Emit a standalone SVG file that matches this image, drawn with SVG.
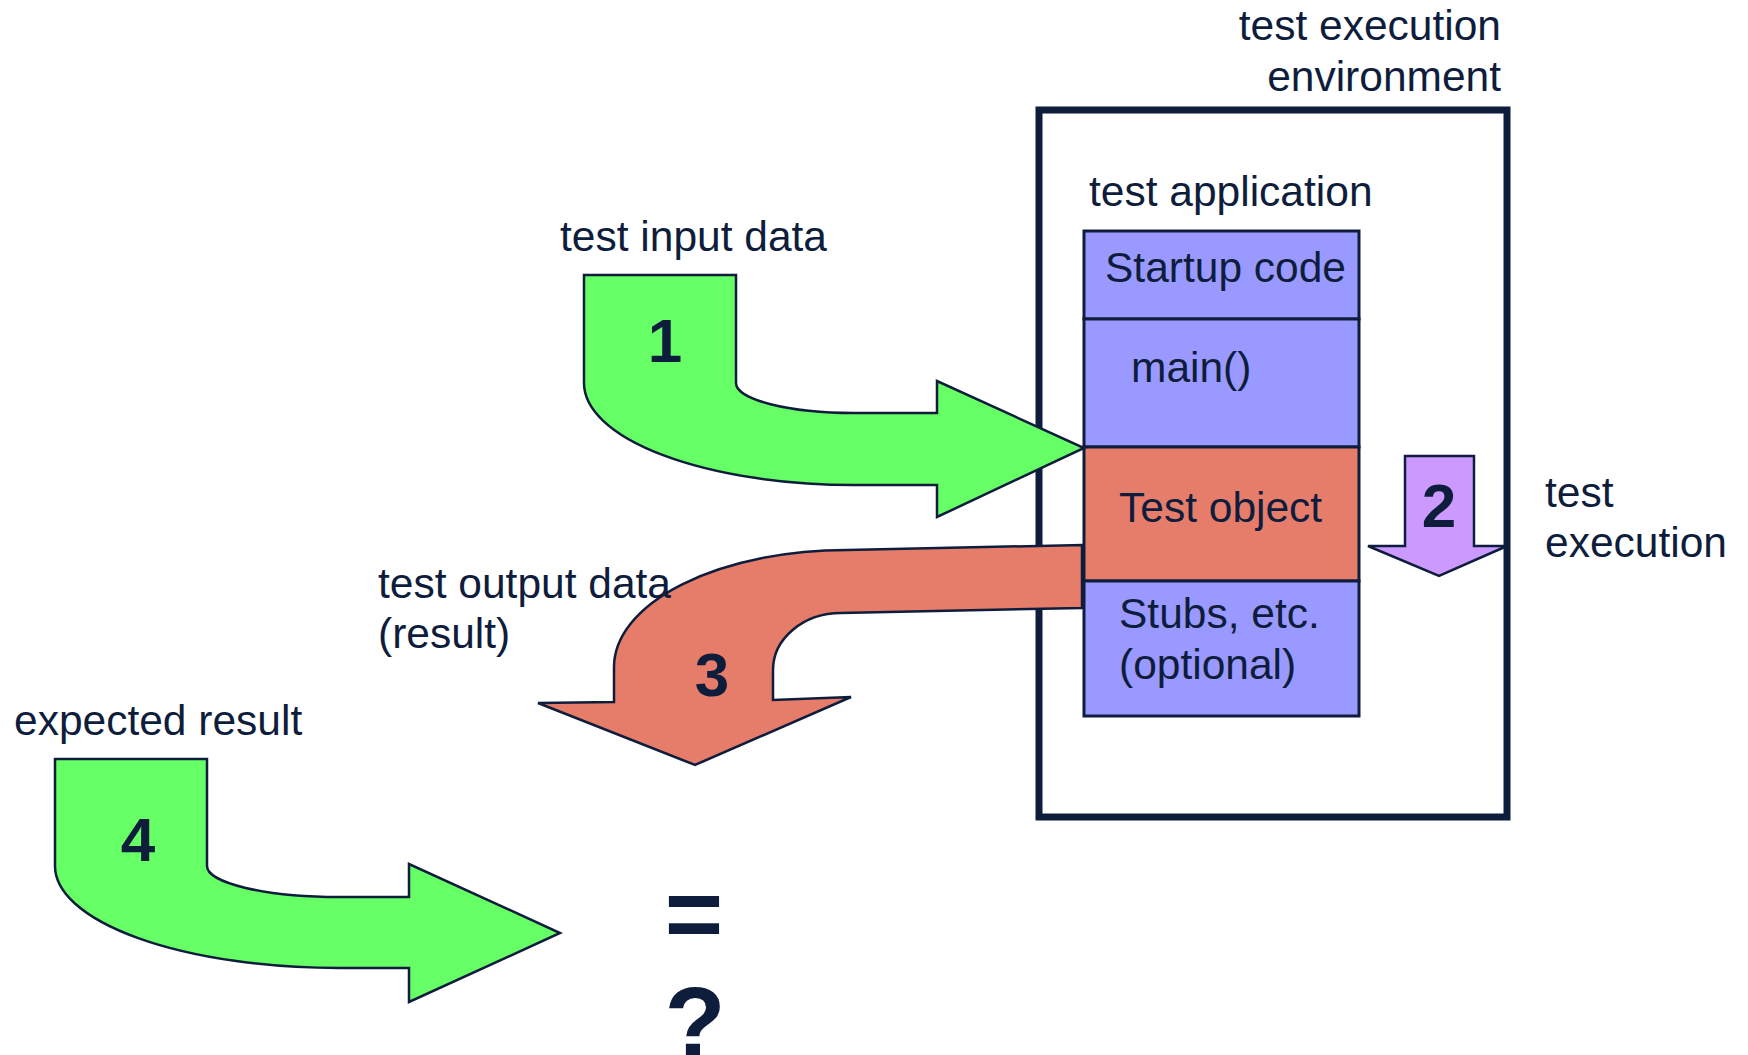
<svg xmlns="http://www.w3.org/2000/svg" width="1748" height="1055" viewBox="0 0 1748 1055">
  <style>
    .lbl { font-family: "Liberation Sans", Arial, sans-serif; font-size: 42.5px; fill: #0f1d3c; }
    .num { font-family: "Liberation Sans", Arial, sans-serif; font-size: 62px; font-weight: bold; fill: #0f1d3c; text-anchor: middle; }
    .big { font-family: "Liberation Sans", Arial, sans-serif; font-size: 100px; font-weight: bold; fill: #0f1d3c; text-anchor: middle; }
    .layer { stroke: #0f1d3c; stroke-width: 3; }
    .blue { fill: #9999ff; }
    .red { fill: #e67c6a; }
    .arrow { stroke: #0f1d3c; stroke-width: 2.5; stroke-linejoin: miter; }
    .green { fill: #66ff66; }
    .violet { fill: #cc99ff; }
  </style>
  <rect width="1748" height="1055" fill="#ffffff"/>

  <!-- execution environment frame -->
  <g id="environment">
    <rect x="1039" y="110" width="468" height="707" fill="none" stroke="#0f1d3c" stroke-width="7"/>
    <text class="lbl" x="1501" y="40" text-anchor="end">test execution</text>
    <text class="lbl" x="1501" y="91" text-anchor="end">environment</text>
  </g>

  <!-- test application stack -->
  <g id="test-application">
    <text class="lbl" x="1089" y="206">test application</text>
    <g id="startup-code">
      <rect class="layer blue" x="1084" y="231" width="275" height="88"/>
      <text class="lbl" x="1105" y="282">Startup code</text>
    </g>
    <g id="main">
      <rect class="layer blue" x="1084" y="319" width="275" height="128"/>
      <text class="lbl" x="1131" y="382">main()</text>
    </g>
    <g id="test-object">
      <rect class="layer red" x="1084" y="447" width="275" height="134"/>
      <text class="lbl" x="1119" y="522">Test object</text>
    </g>
    <g id="stubs">
      <rect class="layer blue" x="1084" y="581" width="275" height="135"/>
      <text class="lbl" x="1119" y="628">Stubs, etc.</text>
      <text class="lbl" x="1119" y="679">(optional)</text>
    </g>
  </g>

  <!-- numbered flow arrows -->
  <g id="connectors">
    <g id="arrow-1">
      <path class="arrow green" d="M 584 275 H 736 V 383 A 118 30 0 0 0 854 413 H 937 V 381 L 1084 448 L 937 517 V 485 H 854 A 270 102 0 0 1 584 383 Z"/>
      <text class="num" x="665" y="362">1</text>
    </g>
    <g id="arrow-2">
      <path class="arrow violet" d="M 1405 456 H 1474 V 546 H 1507 L 1439 576 L 1368 546 H 1405 Z"/>
      <text class="num" x="1439" y="527">2</text>
    </g>
    <g id="arrow-3">
      <path class="arrow red" d="M 1082 545 V 608 L 841 613 A 68 57 0 0 0 773 670 V 700 L 851 697 L 695 765 L 538 703 L 614 702 V 667 A 233 117 0 0 1 847 550 Z"/>
      <text class="num" x="712" y="696">3</text>
    </g>
    <g id="arrow-4">
      <path class="arrow green" d="M 55 759 H 207 V 866 A 132 31 0 0 0 339 897 H 409 V 864 L 560 933 L 409 1002 V 968 H 339 A 284 102 0 0 1 55 866 Z"/>
      <text class="num" x="138" y="861">4</text>
    </g>
  </g>

  <!-- data labels -->
  <g id="input-label">
    <text class="lbl" x="560" y="251">test input data</text>
  </g>
  <g id="execution-label">
    <text class="lbl" x="1545" y="507">test</text>
    <text class="lbl" x="1545" y="557">execution</text>
  </g>
  <g id="output-label">
    <text class="lbl" x="378" y="598">test output data</text>
    <text class="lbl" x="378" y="648">(result)</text>
  </g>
  <g id="expected-label">
    <text class="lbl" x="14" y="735">expected result</text>
  </g>

  <!-- comparison -->
  <g id="compare">
    <text class="big" x="694" y="948">=</text>
    <text class="big" x="695" y="1057">?</text>
  </g>
</svg>
